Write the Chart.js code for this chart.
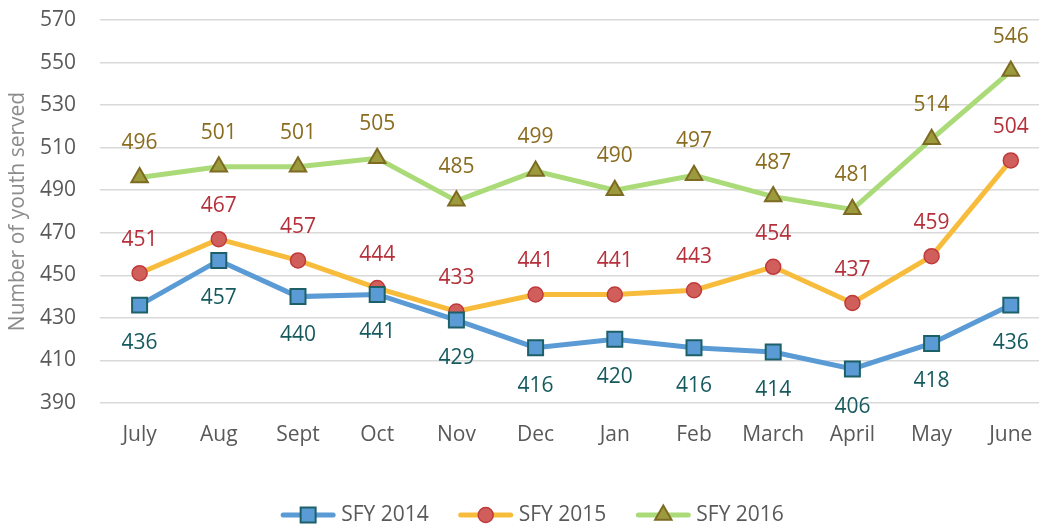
<!DOCTYPE html>
<html>
<head>
<meta charset="utf-8">
<script src="https://cdn.jsdelivr.net/npm/chart.js@4.4.1/dist/chart.umd.min.js"></script>
<style>
  html, body { margin: 0; padding: 0; background: #fff; overflow: hidden; }
  #wrap { width: 1039px; height: 525px; overflow: hidden; }
  #box { width: 1063px; height: 525px; }
</style>
</head>
<body>
<div id="wrap"><div id="box"><canvas id="grafico"></canvas></div></div>
<script>
// categorias e séries
const meses = ["July", "Aug", "Sept", "Oct", "Nov", "Dec", "Jan", "Feb", "March", "April", "May", "June"];
const sfy2014 = [436, 457, 440, 441, 429, 416, 420, 416, 414, 406, 418, 436];
const sfy2015 = [451, 467, 457, 444, 433, 441, 441, 443, 454, 437, 459, 504];
const sfy2016 = [496, 501, 501, 505, 485, 499, 490, 497, 487, 481, 514, 546];
const eixoMin = 390, eixoMax = 570, eixoPasso = 20;

const FONTE = "'Open Sans', 'DejaVu Sans', sans-serif";

// rótulos de dados (acima ou abaixo do ponto)
const rotulosPlugin = {
  id: "rotulos",
  afterDatasetsDraw(chart) {
    const ctx = chart.ctx;
    ctx.save();
    ctx.font = "21px " + FONTE;
    ctx.textAlign = "center";
    ctx.textBaseline = "middle";
    chart.data.datasets.forEach((ds, i) => {
      const meta = chart.getDatasetMeta(i);
      meta.data.forEach((pt, j) => {
        ctx.fillStyle = ds.corRotulo;
        ctx.fillText(ds.data[j], pt.x, pt.y + ds.deslocRotulo);
      });
    });
    ctx.restore();
  }
};

// legenda desenhada à mão (linha + marcador + texto)
const legendaPlugin = {
  id: "legendaLinha",
  afterDraw(chart) {
    const ctx = chart.ctx;
    const linha = 56, gap = 5, espaco = 29, yCentro = 515, centro = 532;
    ctx.save();
    ctx.font = "21px " + FONTE;
    const larguras = chart.data.datasets.map(ds => linha + gap + ctx.measureText(ds.label).width);
    const total = larguras.reduce((a, b) => a + b, 0) + espaco * (larguras.length - 1);
    let x = centro - total / 2;
    chart.data.datasets.forEach((ds, i) => {
      ctx.strokeStyle = ds.borderColor;
      ctx.lineWidth = 5;
      ctx.lineCap = "round";
      ctx.beginPath();
      ctx.moveTo(x + 3, yCentro);
      ctx.lineTo(x + linha - 3, yCentro);
      ctx.stroke();
      ctx.fillStyle = ds.pointBackgroundColor;
      ctx.strokeStyle = ds.pointBorderColor;
      ctx.lineWidth = ds.pointBorderWidth;
      Chart.helpers.drawPoint(ctx, { pointStyle: ds.pointStyle, radius: ds.pointRadius, borderWidth: ds.pointBorderWidth }, x + linha / 2, yCentro);
      ctx.fillStyle = "#595959";
      ctx.textAlign = "left";
      ctx.textBaseline = "middle";
      ctx.fillText(ds.label, x + linha + gap, yCentro);
      x += larguras[i] + espaco;
    });
    ctx.restore();
  }
};

const ctx = document.getElementById("grafico").getContext("2d");
new Chart(ctx, {
  type: "line",
  data: {
    labels: meses,
    datasets: [
      {
        label: "SFY 2014",
        data: sfy2014,
        borderColor: "#5B9BD5",
        borderWidth: 5,
        pointStyle: "rect",
        pointRadius: 10.6,
        pointBackgroundColor: "#5B9BD5",
        pointBorderColor: "#1D6068",
        pointBorderWidth: 2,
        corRotulo: "#165A5E",
        deslocRotulo: 38
      },
      {
        label: "SFY 2015",
        data: sfy2015,
        borderColor: "#F8BC3C",
        borderWidth: 5,
        pointStyle: "circle",
        pointRadius: 7.5,
        pointBackgroundColor: "#D05F5C",
        pointBorderColor: "#C0393B",
        pointBorderWidth: 1.5,
        corRotulo: "#B5303A",
        deslocRotulo: -33
      },
      {
        label: "SFY 2016",
        data: sfy2016,
        borderColor: "#ABDB78",
        borderWidth: 5,
        pointStyle: "triangle",
        pointRadius: 9.5,
        pointBackgroundColor: "#9B9B3E",
        pointBorderColor: "#7E6B23",
        pointBorderWidth: 2,
        corRotulo: "#8A6C1F",
        deslocRotulo: -34
      }
    ]
  },
  options: {
    responsive: true,
    maintainAspectRatio: false,
    animation: false,
    layout: { padding: { top: 20, right: 0, bottom: 0, left: 0 } },
    plugins: {
      legend: { display: false },
      tooltip: { enabled: false }
    },
    scales: {
      x: {
        offset: true,
        grid: { display: false, drawTicks: false },
        border: { display: false },
        ticks: { color: "#595959", font: { family: FONTE, size: 21 }, padding: 19, maxRotation: 0 },
        afterFit: s => { s.height = 122; }
      },
      y: {
        min: eixoMin,
        max: eixoMax,
        ticks: { stepSize: eixoPasso, color: "#595959", font: { family: FONTE, size: 21 }, padding: 0 },
        grid: { color: "#D9D9D9", lineWidth: 1.5, drawTicks: true, tickLength: 24, tickColor: "rgba(0,0,0,0)" },
        border: { display: false },
        title: {
          display: true,
          text: "Number of youth served",
          color: "#8C8C8C",
          font: { family: FONTE, size: 21 },
          padding: { top: 5, bottom: 0 }
        },
        afterFit: s => { s.width = 100; }
      }
    }
  },
  plugins: [rotulosPlugin, legendaPlugin]
});
</script>
</body>
</html>
